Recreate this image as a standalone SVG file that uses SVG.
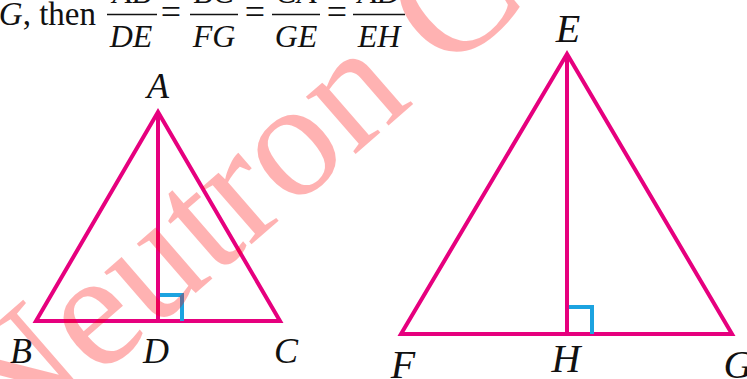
<svg xmlns="http://www.w3.org/2000/svg" width="747" height="379" viewBox="0 0 747 379">
<style>
.tx{font-family:"Liberation Serif","Times New Roman",serif;fill:#111;}
.it{font-style:italic;}
.lbl{font-family:"Liberation Serif","Times New Roman",serif;font-style:italic;fill:#111;text-anchor:middle;}
.tri{fill:none;stroke:#E6007E;stroke-width:4;stroke-linejoin:miter;stroke-miterlimit:10;}
.alt{fill:none;stroke:#E6007E;stroke-width:4;}
.ra{fill:none;stroke:#1CA3E0;stroke-width:4;stroke-linejoin:miter;}
.bar{stroke:#111;stroke-width:1.3;}
.wm{font-family:"Liberation Serif","Times New Roman",serif;fill:#FF0000;fill-opacity:0.3;}
</style>
<rect width="747" height="379" fill="#fff"/>
<g id="formula">
<text class="tx" x="96" y="25" font-size="33" text-anchor="end"><tspan class="it">G</tspan>, then</text>
<text class="tx it" x="132" y="3" text-anchor="middle" font-size="32">AB</text>
<text class="tx it" x="214" y="3" text-anchor="middle" font-size="32">BC</text>
<text class="tx it" x="296" y="3" text-anchor="middle" font-size="32">CA</text>
<text class="tx it" x="379" y="3" text-anchor="middle" font-size="32">AD</text>
<text class="tx it" x="131" y="47" text-anchor="middle" font-size="32">DE</text>
<text class="tx it" x="214" y="47" text-anchor="middle" font-size="32">FG</text>
<text class="tx it" x="296" y="47" text-anchor="middle" font-size="32">GE</text>
<text class="tx it" x="379" y="47" text-anchor="middle" font-size="32">EH</text>
<line class="bar" x1="107" y1="14.5" x2="157" y2="14.5"/>
<line class="bar" x1="190" y1="14.5" x2="238" y2="14.5"/>
<line class="bar" x1="272" y1="14.5" x2="320" y2="14.5"/>
<line class="bar" x1="353" y1="14.5" x2="405" y2="14.5"/>
<text class="tx" x="171" y="24" font-size="36" text-anchor="middle">=</text>
<text class="tx" x="255" y="24" font-size="36" text-anchor="middle">=</text>
<text class="tx" x="337" y="24" font-size="36" text-anchor="middle">=</text>
</g>
<g id="triangle-ABC">
<polygon class="tri" points="158,112 36,321 280,321"/>
<line class="alt" x1="158" y1="112" x2="158" y2="321"/>
<polyline class="ra" points="160,295 182,295 182,321"/>
<text class="lbl" x="158" y="98" font-size="36">A</text>
<text class="lbl" x="21" y="363" font-size="36">B</text>
<text class="lbl" x="156" y="363" font-size="36">D</text>
<text class="lbl" x="286" y="363" font-size="36">C</text>
</g>
<g id="triangle-EFG">
<polygon class="tri" points="567,54 401,334 732,334"/>
<line class="alt" x1="567" y1="54" x2="567" y2="334"/>
<polyline class="ra" points="569,307 592,307 592,334"/>
<text class="lbl" x="568" y="42" font-size="40">E</text>
<text class="lbl" x="403" y="378" font-size="40">F</text>
<text class="lbl" x="566" y="372" font-size="40">H</text>
<text class="lbl" x="738" y="378" font-size="40">G</text>
</g>
<g id="watermark">
<text class="wm" font-size="165" transform="translate(7,457) rotate(-41)">Neutron C</text>
</g>
</svg>
